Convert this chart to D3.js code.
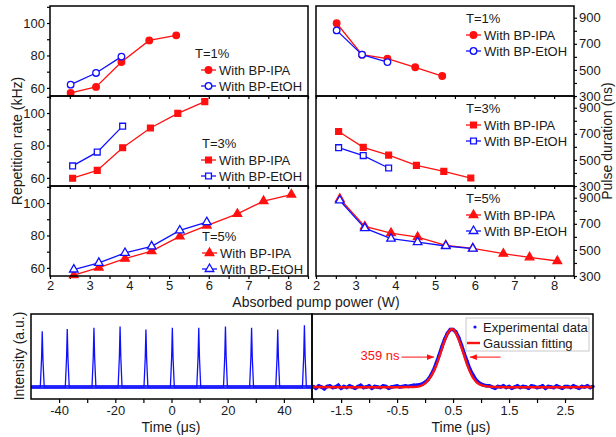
<!DOCTYPE html>
<html>
<head>
<meta charset="utf-8">
<script src="https://cdn.jsdelivr.net/npm/d3@7"></script>
<style>
body { margin: 0; background: #fff; }
svg { display: block; font-family: "Liberation Sans", Arial, sans-serif; }
.axis text { font-size: 13px; fill: #1a1a1a; }
.axis path { display: none; }
.axis line { stroke: #000; stroke-width: 1.2; }
.frame { fill: none; stroke: #000; stroke-width: 1.5; }
.legend text { font-size: 13px; fill: #1a1a1a; }
.axis-label { font-size: 14px; fill: #1a1a1a; }
</style>
</head>
<body>
<div id="chart"></div>
<script>
// ---------- data ----------
// absorbed pump power (W) for each transmission
var powerT1 = [2.52, 3.16, 3.80, 4.50, 5.18];
var powerT3 = [2.57, 3.19, 3.83, 4.53, 5.22, 5.90];
var powerT5 = [2.60, 3.23, 3.89, 4.56, 5.27, 5.95, 6.72, 7.38, 8.08];

// repetition rate (kHz)
var repIpaT1 = [56.9, 60.6, 76.0, 89.3, 92.4];
var repEtohT1 = [62.0, 69.2, 79.3];
var repIpaT3 = [59.8, 64.6, 78.6, 90.8, 99.8, 107.0];
var repEtohT3 = [67.4, 75.9, 91.9];
var repIpaT5 = [55.5, 60.2, 65.7, 70.4, 79.4, 86.1, 93.3, 101.2, 105.2];
var repEtohT5 = [59.0, 63.1, 69.2, 73.3, 83.1, 88.2];

// pulse duration (ns)
var durIpaT1 = [858, 617, 586, 520, 453];
var durEtohT1 = [803, 617, 560];
var durIpaT3 = [718, 596, 537, 458, 412, 361];
var durEtohT3 = [594, 533, 438];
var durIpaT5 = [892, 680, 629, 598, 535, 512, 471, 443, 415];
var durEtohT5 = [879, 667, 586, 560, 530, 510];

// ticks
var powerTicks = [2, 2.5, 3, 3.5, 4, 4.5, 5, 5.5, 6, 6.5, 7, 7.5, 8, 8.5];
var powerLabels = [2, 3, 4, 5, 6, 7, 8];
var repTicks = [60, 70, 80, 90, 100, 110];
var repLabels = [60, 80, 100];
var durTicks = [300, 400, 500, 600, 700, 800, 900];
var durLabels = [300, 500, 700, 900];

// pulse train (left bottom panel)
var trainCenters = [-46.0, -37.1, -27.6, -18.3, -9.1, 0.3, 9.7, 19.2, 28.5, 37.8, 47.3]; // us
var trainPeaks = [0.93, 0.97, 0.99, 1.01, 0.96, 0.99, 0.99, 1.01, 0.99, 0.96, 1.03];
var spikeOffsets = [-0.7, -0.25, 0, 0.25, 0.7]; // us
var spikeLevels = [0, 0.5, 1, 0.5, 0];
var trainTicks = [-40, -30, -20, -10, 0, 10, 20, 30, 40];
var trainLabels = [-40, -20, 0, 20, 40];

// single pulse (right bottom panel)
var expStart = -2.0, expStep = 0.05;
var expV = [0.01, -0.02, 0.02, 0.00, -0.03, 0.01, 0.02, -0.01, 0.00, 0.03,
            -0.02, 0.01, -0.01, 0.02, 0.00, -0.02, 0.01, 0.03, -0.01, 0.00,
            0.02, -0.02, 0.01, 0.00, -0.01, 0.02, 0.01, -0.02, 0.00, 0.01,
            0.02, 0.00, 0.01, 0.02, 0.01, 0.02, 0.03, 0.03, 0.04, 0.05,
            0.08, 0.12, 0.19, 0.28, 0.40, 0.53, 0.67, 0.80, 0.90, 0.96,
            0.96, 0.92, 0.83, 0.70, 0.56, 0.43, 0.30, 0.21, 0.13, 0.08,
            0.05, 0.03, 0.02, 0.02, 0.00, -0.02, 0.01, 0.00, 0.02, -0.01,
            0.01, -0.02, 0.00, 0.02, -0.01, 0.01, 0.00, -0.02, 0.02, 0.01,
            -0.01, 0.00, 0.02, -0.02, 0.01, 0.00, -0.01, 0.02, 0.00, -0.02,
            0.01, 0.01, -0.01, 0.02, 0.00, -0.02, 0.01, 0.00, 0.02, -0.01, 0.01];
var fitT = [-2.0, -0.3, -0.1, 0.0, 0.1, 0.2, 0.28, 0.35, 0.42, 0.48, 0.54, 0.61, 0.68, 0.76, 0.86, 0.96, 1.1, 1.3, 3.0];
var fitV = [0.0, 0.0, 0.01, 0.06, 0.17, 0.36, 0.58, 0.77, 0.92, 0.97, 0.92, 0.77, 0.58, 0.35, 0.15, 0.05, 0.01, 0.0, 0.0];
var pulseTicks = [-2, -1.5, -1, -0.5, 0, 0.5, 1, 1.5, 2, 2.5];
var pulseLabels = [-1.5, -0.5, 0.5, 1.5, 2.5];
var fwhmArrowL = [-0.42, 0.16]; // tail, head (us)
var fwhmArrowR = [1.35, 0.80];
var fwhmLevel = 0.50;

// ---------- layout ----------
var RED = '#ff1010', BLUE = '#1010ff';
var svg = d3.select('#chart').append('svg')
    .attr('width', 616)
    .attr('height', 437);

var defs = svg.append('defs');
defs.append('marker')
    .attr('id', 'arrow')
    .attr('viewBox', '0 0 10 10')
    .attr('refX', 10).attr('refY', 5)
    .attr('markerWidth', 7).attr('markerHeight', 7)
    .attr('orient', 'auto')
    .append('path')
    .attr('d', 'M0,1 L10,5 L0,9 z')
    .attr('fill', RED);

var panelW = 258, panelH = 90;
var rowTops = [6, 96, 186];
var leftX0 = 50, rightX0 = 316;

function labelFmt(list) {
    return function(d) { return list.indexOf(d) >= 0 ? d : ''; };
}

function drawPanel(x0, top, kind, series, legend, isBottom) {
    var x = d3.scaleLinear().domain([2, 8.5]).range([x0, x0 + panelW]);
    var y = kind === 'rep'
        ? d3.scaleLinear().domain([55, 110.5]).range([top + panelH, top])
        : d3.scaleLinear().domain([300, 990]).range([top + panelH, top]);

    // x axis (ticks on every panel, labels only on the bottom one)
    svg.append('g')
        .attr('class', 'axis')
        .attr('transform', 'translate(0,' + (top + panelH) + ')')
        .call(d3.axisBottom(x).tickValues(powerTicks).tickSize(3).tickPadding(2)
            .tickFormat(isBottom ? labelFmt(powerLabels) : function() { return ''; }));

    if (kind === 'rep') {
        svg.append('g')
            .attr('class', 'axis')
            .attr('transform', 'translate(' + x0 + ',0)')
            .call(d3.axisLeft(y).tickValues(repTicks).tickSize(3).tickPadding(2)
                .tickFormat(labelFmt(repLabels)));
    } else {
        svg.append('g')
            .attr('class', 'axis')
            .attr('transform', 'translate(' + (x0 + panelW) + ',0)')
            .call(d3.axisRight(y).tickValues(durTicks).tickSize(3).tickPadding(2)
                .tickFormat(labelFmt(durLabels)));
    }

    var line = d3.line()
        .x(function(d) { return x(d[0]); })
        .y(function(d) { return y(d[1]); });

    series.forEach(function(s) {
        var pts = d3.zip(s.x, s.y);
        svg.append('path')
            .datum(pts)
            .attr('fill', 'none')
            .attr('stroke', s.color)
            .attr('stroke-width', 1.3)
            .attr('d', line);
        svg.append('g').selectAll('path')
            .data(pts)
            .enter()
            .append('path')
            .attr('d', d3.symbol().type(s.symbol).size(s.size))
            .attr('transform', function(d) { return 'translate(' + x(d[0]) + ',' + y(d[1]) + ')'; })
            .attr('fill', s.filled ? s.color : '#fff')
            .attr('stroke', s.color)
            .attr('stroke-width', 1.3);
    });

    // legend
    var lg = svg.append('g').attr('class', 'legend');
    lg.append('text')
        .attr('x', legend.tx)
        .attr('y', top + legend.ty)
        .attr('dy', '0.35em')
        .text(legend.title);
    series.forEach(function(s, i) {
        var ly = top + legend.rows[i];
        lg.append('line')
            .attr('x1', legend.lx).attr('x2', legend.lx + 15)
            .attr('y1', ly).attr('y2', ly)
            .attr('stroke', s.color).attr('stroke-width', 1.3);
        lg.append('path')
            .attr('d', d3.symbol().type(s.symbol).size(s.size))
            .attr('transform', 'translate(' + (legend.lx + 7.5) + ',' + ly + ')')
            .attr('fill', s.filled ? s.color : '#fff')
            .attr('stroke', s.color)
            .attr('stroke-width', 1.3);
        lg.append('text')
            .attr('x', legend.lx + 18)
            .attr('y', ly)
            .attr('dy', '0.35em')
            .text(s.label);
    });

    svg.append('rect')
        .attr('class', 'frame')
        .attr('x', x0).attr('y', top)
        .attr('width', panelW).attr('height', panelH);
}

function ser(xs, ys, color, symbol, size, filled, label) {
    return { x: xs, y: ys, color: color, symbol: symbol, size: size, filled: filled, label: label };
}

var C = d3.symbolCircle, S = d3.symbolSquare, T = d3.symbolTriangle;
var sets = [
    { title: 'T=1%', sym: C, size: 34, px: powerT1,
      rep: [repIpaT1, repEtohT1], dur: [durIpaT1, durEtohT1] },
    { title: 'T=3%', sym: S, size: 34, px: powerT3,
      rep: [repIpaT3, repEtohT3], dur: [durIpaT3, durEtohT3] },
    { title: 'T=5%', sym: T, size: 32, px: powerT5,
      rep: [repIpaT5, repEtohT5], dur: [durIpaT5, durEtohT5] }
];
var leftLegends = [
    { tx: 195, ty: 47, lx: 201, rows: [64, 80] },
    { tx: 202, ty: 47, lx: 201, rows: [64, 80] },
    { tx: 202, ty: 50, lx: 202, rows: [67, 83] }
];
var rightLegends = [
    { tx: 466, ty: 12, lx: 466, rows: [29, 45] },
    { tx: 466, ty: 12, lx: 466, rows: [29, 45] },
    { tx: 466, ty: 12, lx: 466, rows: [29, 45] }
];

sets.forEach(function(st, i) {
    var repSeries = [
        ser(st.px, st.rep[0], RED, st.sym, st.size, true, 'With BP-IPA'),
        ser(st.px.slice(0, st.rep[1].length), st.rep[1], BLUE, st.sym, st.size, false, 'With BP-EtOH')
    ];
    var durSeries = [
        ser(st.px, st.dur[0], RED, st.sym, st.size, true, 'With BP-IPA'),
        ser(st.px.slice(0, st.dur[1].length), st.dur[1], BLUE, st.sym, st.size, false, 'With BP-EtOH')
    ];
    drawPanel(leftX0, rowTops[i], 'rep', repSeries,
        Object.assign({ title: st.title }, leftLegends[i]), i === 2);
    drawPanel(rightX0, rowTops[i], 'dur', durSeries,
        Object.assign({ title: st.title }, rightLegends[i]), i === 2);
});

// axis titles (top)
svg.append('text')
    .attr('class', 'axis-label')
    .attr('transform', 'translate(17,141) rotate(-90)')
    .attr('text-anchor', 'middle')
    .attr('dy', '0.35em')
    .text('Repetition rate (kHz)');
svg.append('text')
    .attr('class', 'axis-label')
    .attr('transform', 'translate(607,141) rotate(-90)')
    .attr('text-anchor', 'middle')
    .attr('dy', '0.35em')
    .text('Pulse duration (ns)');
svg.append('text')
    .attr('class', 'axis-label')
    .attr('x', 316).attr('y', 302)
    .attr('text-anchor', 'middle')
    .attr('dy', '0.35em')
    .text('Absorbed pump power (W)');

// ---------- bottom panels ----------
var bTop = 314, bBot = 399, bL = 31, bM = 312, bR = 593;
var yI = d3.scaleLinear().domain([-0.2, 1.22]).range([bBot, bTop]);

// pulse train
var xTrain = d3.scaleLinear().domain([-50, 50]).range([bL, bM]);
svg.append('g')
    .attr('class', 'axis')
    .attr('transform', 'translate(0,' + bBot + ')')
    .call(d3.axisBottom(xTrain).tickValues(trainTicks).tickSize(4).tickPadding(3)
        .tickFormat(labelFmt(trainLabels)));

var trainPts = [[-50, 0]];
trainCenters.forEach(function(c, i) {
    spikeOffsets.forEach(function(o, j) {
        trainPts.push([c + o, spikeLevels[j] * trainPeaks[i]]);
    });
});
trainPts.push([50, 0]);

var lineTrain = d3.line()
    .x(function(d) { return xTrain(d[0]); })
    .y(function(d) { return yI(d[1]); });
svg.append('path')
    .datum([[-50, 0], [50, 0]])
    .attr('fill', 'none')
    .attr('stroke', BLUE)
    .attr('stroke-opacity', 0.85)
    .attr('stroke-width', 4)
    .attr('d', lineTrain);
svg.append('path')
    .datum(trainPts)
    .attr('fill', 'none')
    .attr('stroke', BLUE)
    .attr('stroke-width', 1.3)
    .attr('d', lineTrain);

// single pulse
var xPulse = d3.scaleLinear().domain([-2.02, 3]).range([bM, bR]);
svg.append('g')
    .attr('class', 'axis')
    .attr('transform', 'translate(0,' + bBot + ')')
    .call(d3.axisBottom(xPulse).tickValues(pulseTicks).tickSize(4).tickPadding(3)
        .tickFormat(labelFmt(pulseLabels)));

var expPts = expV.map(function(v, i) { return [expStart + i * expStep, v]; });
var linePulse = d3.line()
    .x(function(d) { return xPulse(d[0]); })
    .y(function(d) { return yI(d[1]); });
svg.append('path')
    .datum(expPts)
    .attr('fill', 'none')
    .attr('stroke', BLUE)
    .attr('stroke-width', 3.5)
    .attr('d', linePulse);
svg.append('g').selectAll('circle')
    .data(expPts)
    .enter()
    .append('circle')
    .attr('cx', function(d) { return xPulse(d[0]); })
    .attr('cy', function(d) { return yI(d[1]); })
    .attr('r', 1.7)
    .attr('fill', BLUE);
svg.append('path')
    .datum(d3.zip(fitT, fitV))
    .attr('fill', 'none')
    .attr('stroke', RED)
    .attr('stroke-width', 2.4)
    .attr('d', linePulse.curve(d3.curveCatmullRom));

// FWHM annotation
[fwhmArrowL, fwhmArrowR].forEach(function(a) {
    svg.append('line')
        .attr('x1', xPulse(a[0])).attr('x2', xPulse(a[1]))
        .attr('y1', yI(fwhmLevel)).attr('y2', yI(fwhmLevel))
        .attr('stroke', RED)
        .attr('stroke-width', 1)
        .attr('marker-end', 'url(#arrow)');
});
svg.append('text')
    .attr('x', xPulse(fwhmArrowL[0]) - 2)
    .attr('y', yI(fwhmLevel) - 1.5)
    .attr('text-anchor', 'end')
    .attr('dy', '0.35em')
    .attr('font-size', 13)
    .attr('fill', RED)
    .text('359 ns');

// legend
var lgB = svg.append('g').attr('class', 'legend');
lgB.append('rect')
    .attr('x', 466).attr('y', 318)
    .attr('width', 123).attr('height', 33)
    .attr('fill', '#fff')
    .attr('stroke', '#bbb')
    .attr('stroke-width', 0.8);
lgB.append('circle')
    .attr('cx', 475).attr('cy', 327)
    .attr('r', 1.6)
    .attr('fill', BLUE);
lgB.append('text')
    .attr('x', 483).attr('y', 327)
    .attr('dy', '0.35em')
    .text('Experimental data');
lgB.append('line')
    .attr('x1', 467).attr('x2', 480)
    .attr('y1', 343).attr('y2', 343)
    .attr('stroke', RED)
    .attr('stroke-width', 2.4);
lgB.append('text')
    .attr('x', 483).attr('y', 343)
    .attr('dy', '0.35em')
    .text('Gaussian fitting');

// frames
svg.append('rect').attr('class', 'frame')
    .attr('x', bL).attr('y', bTop).attr('width', bM - bL).attr('height', bBot - bTop);
svg.append('rect').attr('class', 'frame')
    .attr('x', bM).attr('y', bTop).attr('width', bR - bM).attr('height', bBot - bTop);

// axis titles (bottom)
svg.append('text')
    .attr('class', 'axis-label')
    .attr('transform', 'translate(19,356) rotate(-90)')
    .attr('text-anchor', 'middle')
    .attr('dy', '0.35em')
    .text('Intensity (a.u.)');
svg.append('text')
    .attr('class', 'axis-label')
    .attr('x', 171).attr('y', 427)
    .attr('text-anchor', 'middle')
    .attr('dy', '0.35em')
    .text('Time (μs)');
svg.append('text')
    .attr('class', 'axis-label')
    .attr('x', 461).attr('y', 427)
    .attr('text-anchor', 'middle')
    .attr('dy', '0.35em')
    .text('Time (μs)');
</script>
</body>
</html>
